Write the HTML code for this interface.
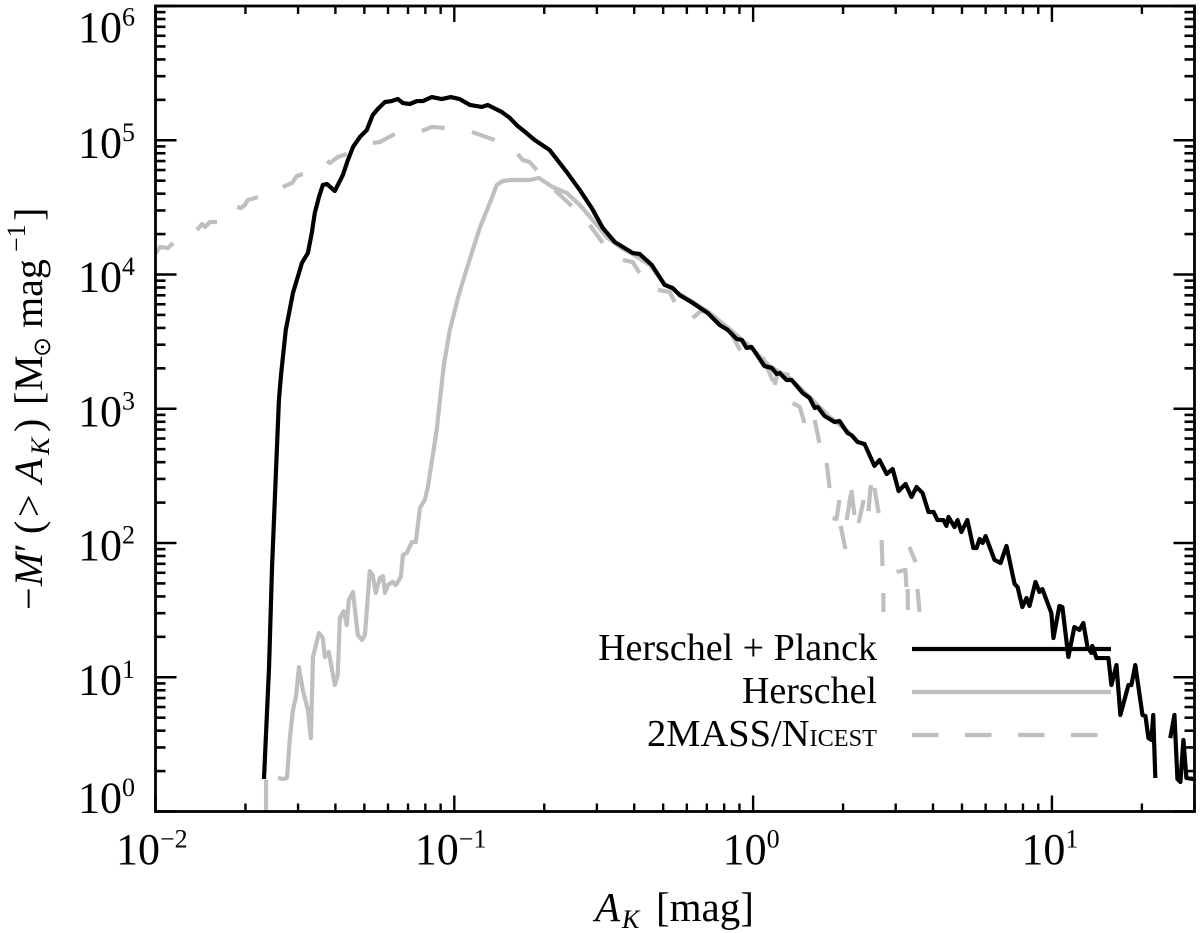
<!DOCTYPE html>
<html lang="en">
<head>
<meta charset="utf-8">
<title>Mass function chart</title>
<style>
html,body{margin:0;padding:0;background:#fff;width:1200px;height:933px;overflow:hidden}
svg{display:block}
text{font-family:"Liberation Serif","DejaVu Serif",serif;fill:#000}
</style>
</head>
<body>
<svg id="chart" width="1200" height="933" viewBox="0 0 1200 933" xmlns="http://www.w3.org/2000/svg">
  <defs><clipPath id="plot-clip"><rect x="155.5" y="6" width="1039" height="805.5"/></clipPath></defs>
  <g id="ticks"></g>
  <g id="series" clip-path="url(#plot-clip)" fill="none" stroke-linejoin="round"></g>
  <g id="labels"></g>
  <rect x="155.5" y="6" width="1039" height="805.5" fill="none" stroke="#000" stroke-width="2.8"/>

  <text x="595" y="921" font-size="41"><tspan font-style="italic">A</tspan><tspan font-style="italic" font-size="26" x="622" dy="7">K</tspan><tspan x="656" dy="-7">[mag]</tspan></text>

  <text transform="translate(42,612) rotate(-90)" font-size="40"><tspan x="2">−</tspan><tspan font-style="italic" x="26">M</tspan><tspan x="60">′</tspan><tspan x="78">(</tspan><tspan x="95">&gt;</tspan><tspan font-style="italic" x="129">A</tspan><tspan font-style="italic" font-size="26" x="157" dy="7">K</tspan><tspan x="180" dy="-7">)</tspan><tspan x="207">[</tspan><tspan x="221">M</tspan><tspan font-size="24" x="255" dy="8" style="font-family:'DejaVu Sans',sans-serif">⊙</tspan><tspan x="284" dy="-8">mag</tspan><tspan font-size="26" x="360" dy="-17">−1</tspan><tspan x="391" dy="17">]</tspan></text>

  <g>
    <text x="877" y="660" font-size="38" text-anchor="end">Herschel + Planck</text>
    <line x1="912" x2="1111" y1="649" y2="649" stroke="#000" stroke-width="4.2"/>
    <text x="877" y="703" font-size="38" text-anchor="end">Herschel</text>
    <line x1="912" x2="1111" y1="692" y2="692" stroke="#bfbfbf" stroke-width="4.2"/>
    <text x="877" y="746" font-size="38" text-anchor="end" textLength="230" lengthAdjust="spacingAndGlyphs">2MASS/N<tspan font-size="24">ICEST</tspan></text>
    <line x1="912" x2="1098" y1="735" y2="735" stroke="#bfbfbf" stroke-width="4.2" stroke-dasharray="26.5 26.5"/>
  </g>
</svg>
<script>
// Tick exponents (decades) and minor tick multipliers
const xDecades = [-2, -1, 0, 1];
const yDecades = [0, 1, 2, 3, 4, 5, 6];
const xTickLabels = ['−2', '−1', '0', '1'];
const yTickLabels = ['0', '1', '2', '3', '4', '5', '6'];
const minorMultipliers = [2, 3, 4, 5, 6, 7, 8, 9];

// Herschel + Planck: log10(A_K) and log10(-M')
const herschelPlanckLogAk = [-1.637,-1.620,-1.610,-1.587,-1.580,-1.564,-1.540,-1.527,-1.510,-1.490,-1.477,-1.467,-1.453,-1.440,-1.426,-1.400,-1.373,-1.356,-1.339,-1.316,-1.293,-1.273,-1.256,-1.232,-1.209,-1.189,-1.172,-1.149,-1.125,-1.105,-1.075,-1.042,-1.012,-.982,-.948,-.908,-.888,-.841,-.814,-.788,-.771,-.731,-.681,-.624,-.580,-.540,-.503,-.463,-.403,-.380,-.339,-.296,-.269,-.246,-.202,-.152,-.112,-.085,-.055,-.038,-.022,-.005,.038,.062,.079,.089,.112,.129,.166,.189,.206,.216,.239,.273,.289,.316,.329,.350,.373,.406,.423,.447,.467,.487,.510,.530,.547,.567,.587,.604,.617,.637,.647,.654,.674,.684,.697,.717,.737,.748,.758,.768,.778,.808,.828,.848,.865,.875,.885,.901,.915,.925,.945,.958,.968,.998,1.005,1.025,1.035,1.055,1.075,1.092,1.105,1.119,1.132,1.135,1.149,1.189,1.199,1.216,1.229,1.256,1.266,1.279,1.303,1.313,1.323,1.333,1.339,1.346,1.370,1.396,1.410,1.420,1.430,1.440,1.450,1.473];
const herschelPlanckLogM = [.242,1.076,1.821,3.065,3.251,3.587,3.862,3.959,4.086,4.160,4.309,4.458,4.577,4.667,4.674,4.622,4.741,4.853,4.950,5.024,5.076,5.188,5.233,5.285,5.292,5.307,5.277,5.270,5.292,5.292,5.322,5.307,5.322,5.307,5.263,5.248,5.263,5.210,5.166,5.106,5.076,5.002,4.927,4.764,4.629,4.495,4.346,4.242,4.160,4.153,4.071,3.922,3.899,3.847,3.788,3.713,3.624,3.587,3.520,3.512,3.453,3.460,3.318,3.304,3.259,3.266,3.214,3.214,3.117,3.080,3.006,3.013,2.946,2.901,2.909,2.819,2.804,2.752,2.737,2.574,2.618,2.514,2.551,2.387,2.440,2.343,2.417,2.372,2.231,2.231,2.171,2.171,2.127,2.194,2.119,2.171,2.082,2.171,1.963,1.963,2.030,2.000,2.052,1.873,1.851,1.978,1.799,1.695,1.672,1.523,1.590,1.531,1.710,1.635,1.657,1.479,1.292,1.531,1.523,1.151,1.374,1.352,1.404,1.225,1.181,1.233,1.143,1.143,.942,1.091,.719,.942,.942,1.091,.719,.711,.547,.533,.719,.250,null,.547,.719,.242,.220,.533,.250,.242];

// Herschel: log10(A_K) and log10(-M')
const herschelLogAk = [-1.630,-1.630,-1.600,-1.590,-1.574,-1.560,-1.550,-1.540,-1.530,-1.520,-1.507,-1.490,-1.480,-1.473,-1.453,-1.440,-1.433,-1.420,-1.400,-1.390,-1.383,-1.370,-1.360,-1.353,-1.339,-1.323,-1.309,-1.299,-1.283,-1.273,-1.263,-1.249,-1.239,-1.232,-1.222,-1.206,-1.196,-1.179,-1.172,-1.159,-1.142,-1.129,-1.115,-1.099,-1.089,-1.059,-1.048,-1.035,-1.015,-.988,-.965,-.915,-.881,-.858,-.838,-.814,-.748,-.717,-.671,-.624,-.580,-.537,-.490,-.446,-.403,-.346,-.296,-.246,-.196,-.145,-.079,-.012,.055,.122,.189,.256,.323];
const herschelLogM = [0,.235,null,.250,.242,.250,.555,.756,.853,1.076,.905,.756,.547,1.151,1.330,1.292,1.151,1.188,.942,1.017,1.441,1.493,1.389,1.575,1.635,1.315,1.277,1.315,1.791,1.762,1.628,1.739,1.754,1.628,1.687,1.710,1.687,1.747,1.911,1.926,2.007,2.007,2.261,2.320,2.410,2.842,3.065,3.326,3.587,3.825,3.996,4.346,4.533,4.667,4.696,4.704,4.704,4.719,4.652,4.607,4.518,4.406,4.279,4.205,4.153,4.071,3.929,3.855,3.788,3.713,3.594,3.467,3.318,3.229,3.088,2.939,2.819];

// 2MASS/NICEST: log10(A_K) and log10(-M'); null marks where the dash pattern restarts
const nicestLogAk = [-1.998,-1.985,-1.958,-1.941,null,-1.861,-1.844,-1.834,-1.818,-1.794,null,-1.727,-1.714,-1.701,-1.691,-1.657,null,-1.574,-1.543,-1.527,-1.507,null,-1.426,-1.416,-1.390,-1.360,null,-1.273,-1.249,-1.199,null,-1.109,-1.075,-1.032,null,-.941,-.865,null,-.788,-.771,-.748,-.724,null,-.664,-.607,null,-.547,-.503,null,-.436,-.403,-.380,null,-.319,-.279,-.263,null,-.202,-.179,-.152,null,-.085,-.012,null,.032,.072,null,.072,.082,.122,null,.132,.156,.172,null,.206,.222,null,.246,.256,null,.266,.279,.289,null,.293,.309,null,.313,.329,null,.329,.339,null,.353,.370,null,.386,.393,.406,null,.406,.420,null,.430,.433,null,.436,.436,null,.480,.510,.513,null,.517,.518,null,.523,.544,null,.550,.557];
const nicestLogM = [4.160,4.205,4.197,4.235,null,4.331,4.376,4.354,4.391,4.391,null,4.503,4.495,4.518,4.555,4.577,null,4.652,4.682,4.734,4.749,null,4.845,4.831,4.875,4.898,null,4.980,4.987,5.047,null,5.069,5.099,5.091,null,5.062,5.002,null,4.898,4.853,4.838,4.778,null,4.629,4.510,null,4.369,4.235,null,4.108,4.093,4.011,null,3.885,3.870,3.795,null,3.676,3.721,3.736,null,3.609,3.304,null,3.385,3.177,null,3.177,3.266,3.251,null,3.043,3.013,2.894,null,2.916,2.745,null,2.596,2.410,null,2.186,2.179,2.320,null,2.127,1.955,null,2.171,2.395,null,2.395,2.209,null,2.149,2.320,null,2.238,2.417,2.410,null,2.410,2.223,null,2.022,1.829,null,1.628,1.486,null,1.784,1.799,1.672,null,1.657,1.501,null,1.970,1.858,null,1.657,1.486];

const SVG_NS = 'http://www.w3.org/2000/svg';
const PLOT = { left: 155.5, right: 1194.5, top: 6, bottom: 811.5 };
const X_DOMAIN = [-2, Math.log10(30)];
const Y_DOMAIN = [0, 6];

function xScale(logValue) {
  return PLOT.left + (logValue - X_DOMAIN[0]) / (X_DOMAIN[1] - X_DOMAIN[0]) * (PLOT.right - PLOT.left);
}
function yScale(logValue) {
  return PLOT.bottom - (logValue - Y_DOMAIN[0]) / (Y_DOMAIN[1] - Y_DOMAIN[0]) * (PLOT.bottom - PLOT.top);
}
function make(tag, attrs, parent) {
  const el = document.createElementNS(SVG_NS, tag);
  for (const key in attrs) el.setAttribute(key, attrs[key]);
  parent.appendChild(el);
  return el;
}
function pathFrom(xs, ys) {
  let d = '';
  let pen = false;
  for (let i = 0; i < xs.length; i++) {
    if (ys[i] === null || xs[i] === null) { pen = false; continue; }
    d += (pen ? 'L' : 'M') + xScale(xs[i]).toFixed(2) + ' ' + yScale(ys[i]).toFixed(2);
    pen = true;
  }
  return d;
}

const ticksGroup = document.getElementById('ticks');
const labelsGroup = document.getElementById('labels');
const seriesGroup = document.getElementById('series');

function drawXTick(logValue, length) {
  const x = xScale(logValue);
  if (x > PLOT.right) return;
  [[PLOT.bottom, PLOT.bottom - length], [PLOT.top, PLOT.top + length]].forEach(function (ends) {
    const t = make('line', { x1: x, x2: x, y1: ends[0], y2: ends[1], stroke: '#000', 'stroke-width': 2.4 }, ticksGroup);
    
    
  });
}
function drawYTick(logValue, length) {
  const y = yScale(logValue);
  if (y < PLOT.top) return;
  [[PLOT.left, PLOT.left + length], [PLOT.right, PLOT.right - length]].forEach(function (ends) {
    const t = make('line', { x1: ends[0], x2: ends[1], y1: y, y2: y, stroke: '#000', 'stroke-width': 2.6 }, ticksGroup);
    
    
  });
}

xDecades.forEach(function (d) {
  drawXTick(d, 16);
  minorMultipliers.forEach(function (m) { drawXTick(d + Math.log10(m), 8); });
});
yDecades.forEach(function (d) {
  drawYTick(d, 21);
  if (d < 6) minorMultipliers.forEach(function (m) { drawYTick(d + Math.log10(m), 10); });
});

function drawPowerLabel(startX, baseY, exponent, name) {
  const base = make('text', { x: startX, y: baseY, 'font-size': 44 }, labelsGroup);
  
  
  base.textContent = '10';
  const sup = make('text', { x: startX + 44, y: baseY - 16.5, 'font-size': 26 }, labelsGroup);
  
  
  sup.textContent = exponent;
}
xDecades.forEach(function (d, i) {
  const label = xTickLabels[i];
  const offset = label.length > 1 ? 39.5 : 30.5;
  drawPowerLabel(xScale(d) - offset, 864, label, 'x-tick-label');
});
yDecades.forEach(function (d, i) {
  const baseline = Math.max(PLOT.top + 36, Math.min(PLOT.bottom + 1, yScale(d) + 17));
  drawPowerLabel(78, baseline, yTickLabels[i], 'y-tick-label');
});

const nicestPath = make('path', { d: pathFrom(nicestLogAk, nicestLogM), stroke: '#bfbfbf', 'stroke-width': 4.2, 'stroke-dasharray': '26.5 26.5' }, seriesGroup);



const herschelPath = make('path', { d: pathFrom(herschelLogAk, herschelLogM), stroke: '#bfbfbf', 'stroke-width': 4.2 }, seriesGroup);



const planckPath = make('path', { d: pathFrom(herschelPlanckLogAk, herschelPlanckLogM), stroke: '#000', 'stroke-width': 4.2 }, seriesGroup);


</script>
</body>
</html>
